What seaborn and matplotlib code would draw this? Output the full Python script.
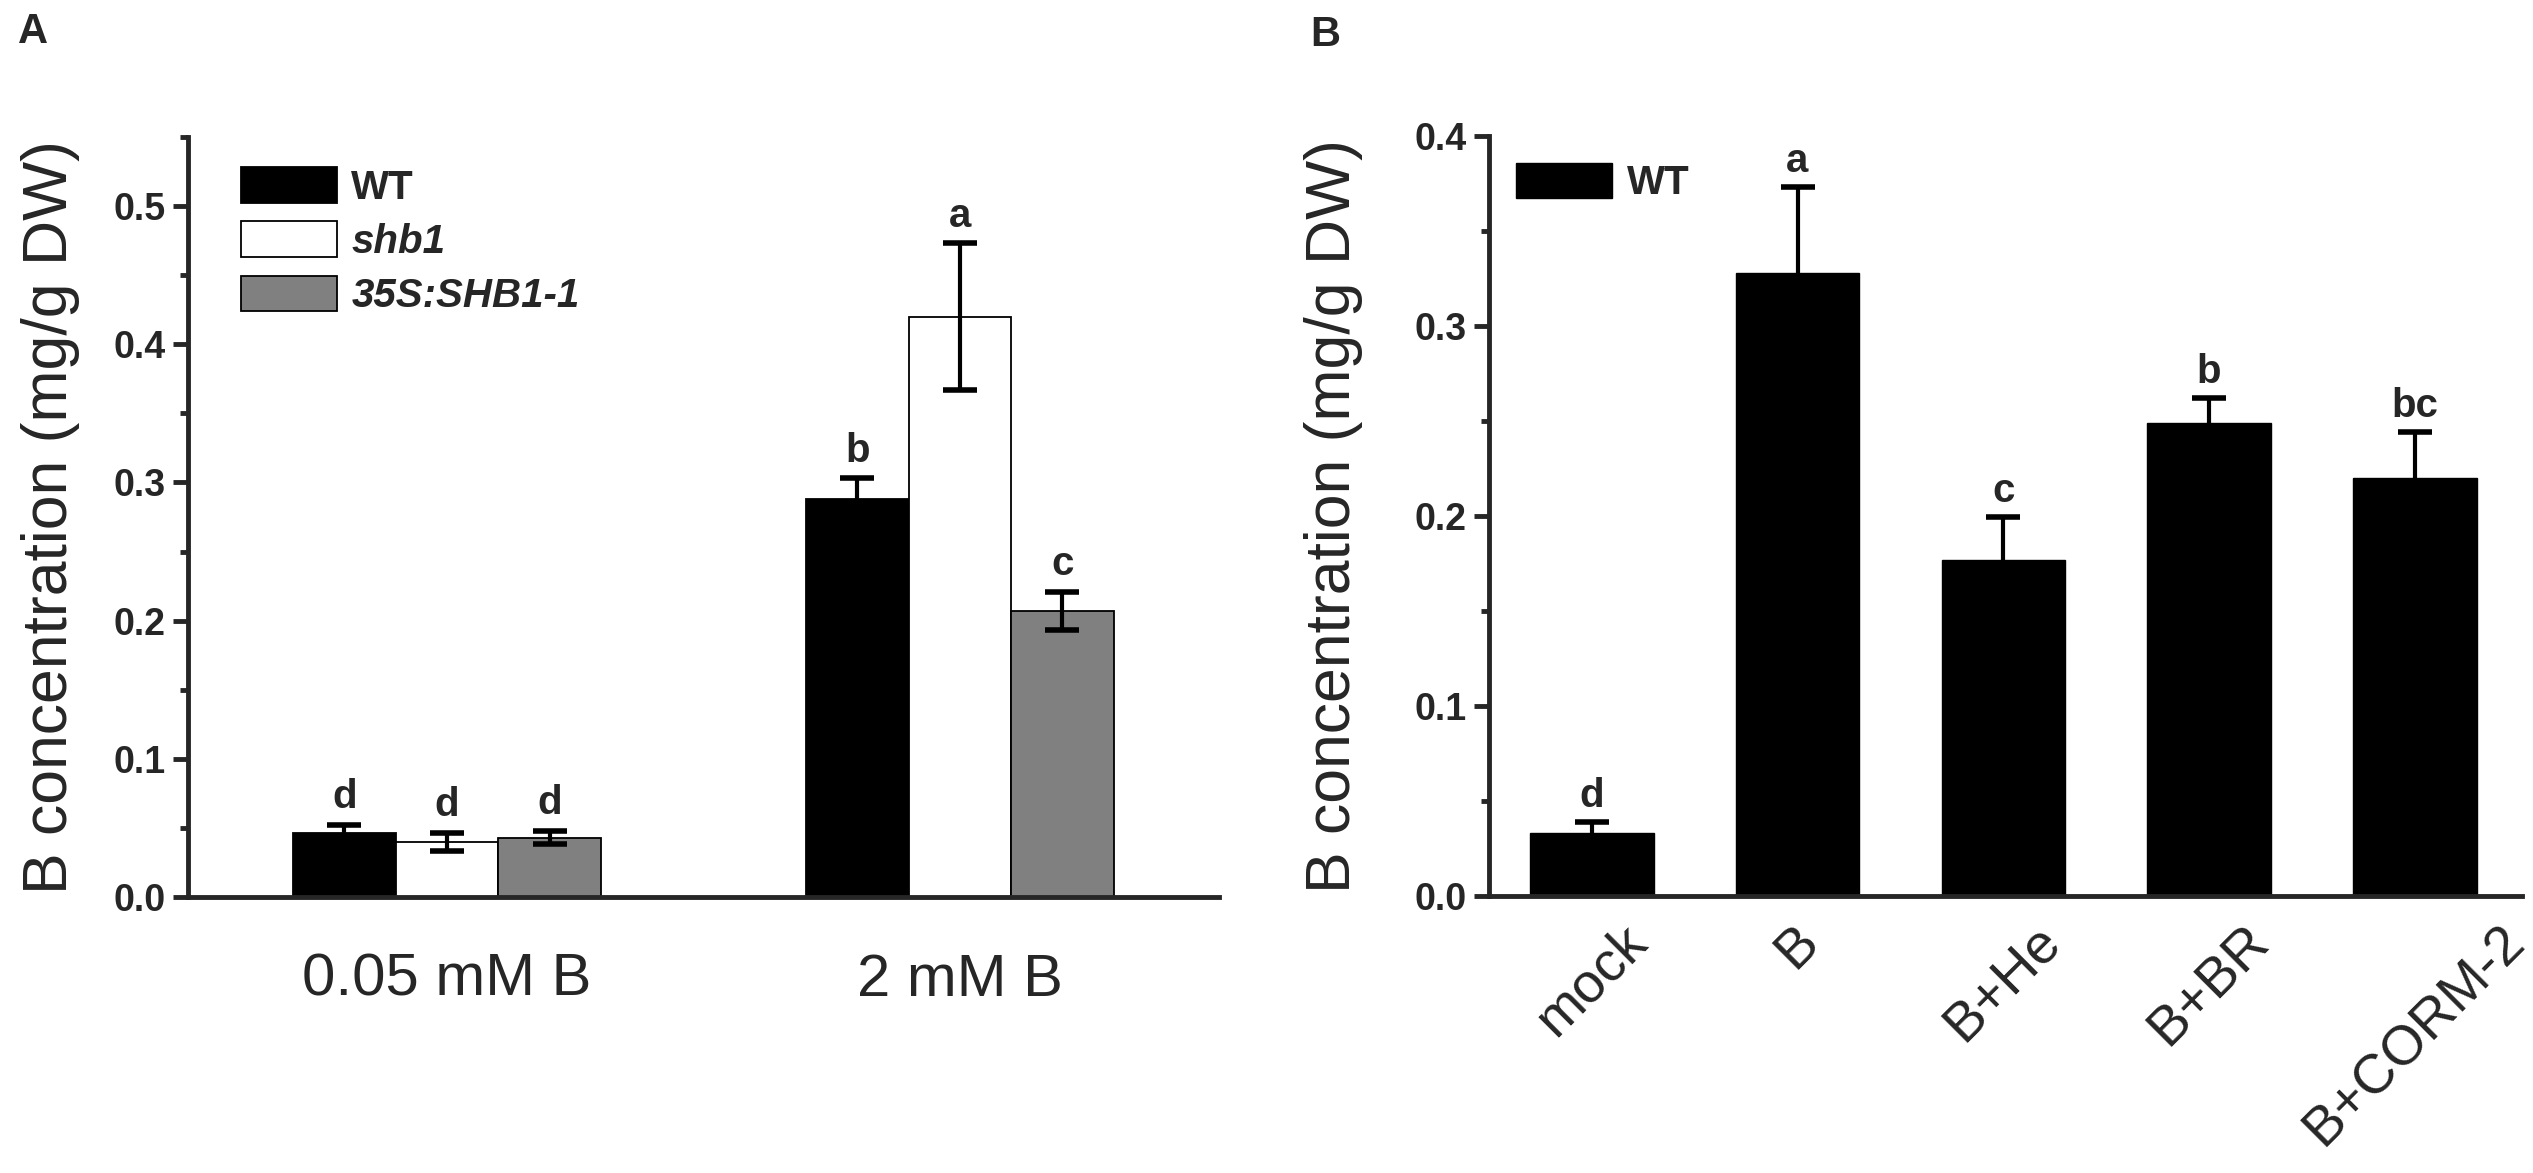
import numpy as np
import pandas as pd
import matplotlib
matplotlib.use("Agg")
import matplotlib.pyplot as plt
import seaborn as sns
from matplotlib.patches import Patch
from matplotlib.ticker import MultipleLocator

# ---------------- Panel A data ----------------
conditions = ["0.05 mM B", "2 mM B"]
genotypes = ["WT", "shb1", "35S:SHB1-1"]
wt_mean = [0.046, 0.288]
wt_err = [0.006, 0.015]
shb1_mean = [0.040, 0.420]
shb1_err = [0.0065, 0.053]
oe_mean = [0.043, 0.207]
oe_err = [0.005, 0.014]
wt_letters = ["d", "b"]
shb1_letters = ["d", "a"]
oe_letters = ["d", "c"]

# ---------------- Panel B data ----------------
treatments = ["mock", "B", "B+He", "B+BR", "B+CORM-2"]
b_mean = [0.033, 0.328, 0.177, 0.249, 0.220]
b_err = [0.006, 0.045, 0.0225, 0.013, 0.024]
b_letters = ["d", "a", "c", "b", "bc"]

ylabel = "B concentration (mg/g DW)"

sns.set_style("ticks")
plt.rcParams["font.family"] = ["Liberation Sans", "DejaVu Sans"]
plt.rcParams["axes.linewidth"] = 3.5

fig = plt.figure(figsize=(25.33, 11.73), dpi=100)
axA = fig.add_axes([0.0742, 0.2353, 0.407, 0.6479])
axB = fig.add_axes([0.5878, 0.2361, 0.4078, 0.6479])

colors = {"WT": "#000000", "shb1": "#ffffff", "35S:SHB1-1": "#808080"}

dfA = pd.DataFrame({
    "condition": conditions * 3,
    "genotype": [genotypes[0]] * 2 + [genotypes[1]] * 2 + [genotypes[2]] * 2,
    "value": wt_mean + shb1_mean + oe_mean,
})
sns.barplot(data=dfA, x="condition", y="value", hue="genotype",
            order=conditions, hue_order=genotypes, palette=colors,
            width=0.6, errorbar=None, saturation=1, legend=False,
            edgecolor="black", linewidth=1.3, ax=axA)

errs = [wt_err, shb1_err, oe_err]
means = [wt_mean, shb1_mean, oe_mean]
lets = [wt_letters, shb1_letters, oe_letters]
for cont, m, e, L in zip(axA.containers, means, errs, lets):
    xs = [b.get_x() + b.get_width() / 2 for b in cont]
    axA.errorbar(xs, m, yerr=e, fmt="none", ecolor="black",
                 elinewidth=3, capsize=12, capthick=4, zorder=5)
    for x, mm, ee, l in zip(xs, m, e, L):
        axA.annotate(l, (x, mm + ee), xytext=(0, 12), textcoords="offset points",
                     ha="center", va="baseline", fontsize=29, fontweight="bold")

axA.set_xlim(-0.505, 1.505)
axA.set_ylim(0, 0.55)
ticksA = np.round(np.arange(0, 0.51, 0.1), 2)
axA.set_yticks(ticksA)
axA.set_yticklabels([f"{t:.1f}" for t in ticksA], fontweight="bold")
axA.yaxis.set_minor_locator(MultipleLocator(0.05))

# Panel B
sns.barplot(x=treatments, y=b_mean, color="black", width=0.6,
            saturation=1, errorbar=None, edgecolor="black", linewidth=1,
            ax=axB)
contB = axB.containers[0]
xsB = [b.get_x() + b.get_width() / 2 for b in contB]
eb = axB.errorbar(xsB, b_mean, yerr=[[0] * len(b_err), b_err], fmt="none",
                  ecolor="black", elinewidth=3, capsize=12, capthick=4, zorder=5)
# hide the lower caps (one-sided error bars)
for cl in eb[1]:
    yd = np.asarray(cl.get_ydata(), dtype=float)
    if np.allclose(yd, np.asarray(b_mean)):
        cl.set_visible(False)
for x, mm, ee, l in zip(xsB, b_mean, b_err, b_letters):
    axB.annotate(l, (x, mm + ee), xytext=(0, 11), textcoords="offset points",
                 ha="center", va="baseline", fontsize=29, fontweight="bold")
axB.set_xlim(-0.5, 4.52)
axB.set_ylim(0, 0.4)
ticksB = np.round(np.arange(0, 0.41, 0.1), 2)
axB.set_yticks(ticksB)
axB.set_yticklabels([f"{t:.1f}" for t in ticksB], fontweight="bold")
axB.yaxis.set_minor_locator(MultipleLocator(0.05))

for ax in (axA, axB):
    sns.despine(ax=ax)
    for s in ("left", "bottom"):
        ax.spines[s].set_linewidth(3.5)
    ax.tick_params(axis="y", which="major", direction="out", length=11,
                   width=3.5, labelsize=27, pad=5)
    ax.tick_params(axis="y", which="minor", direction="out", length=6,
                   width=3.5)
    ax.set_xlabel("")
    ax.set_ylabel(ylabel, fontsize=45)

axA.tick_params(axis="x", length=0, labelsize=43, pad=40)
axB.tick_params(axis="x", length=0, labelsize=40, pad=14)
for lbl in axB.get_xticklabels():
    lbl.set_rotation(45)
    lbl.set_ha("center")

axA.yaxis.set_label_coords(-0.105, 0.5)
axB.yaxis.set_label_coords(-0.122, 0.5)

# Legends
hA = [Patch(facecolor=colors[g], edgecolor="black", linewidth=1.3) for g in genotypes]
legA = axA.legend(hA, genotypes, loc="upper left", bbox_to_anchor=(0.051, 0.96),
                  frameon=False, borderpad=0, borderaxespad=0,
                  handlelength=2.4, handleheight=0.98, handletextpad=0.35,
                  labelspacing=0.36, prop={"size": 29, "weight": "bold"})
for i, t in enumerate(legA.get_texts()):
    if i > 0:
        t.set_style("italic")

hB = [Patch(facecolor="black", edgecolor="black")]
axB.legend(hB, ["WT"], loc="upper left", bbox_to_anchor=(0.026, 0.965),
           frameon=False, borderpad=0, borderaxespad=0,
           handlelength=2.4, handleheight=0.98, handletextpad=0.35,
           prop={"size": 29, "weight": "bold"})

fig.text(18 / 2533, 1 - 12 / 1173, "A", fontsize=30, fontweight="bold",
         ha="left", va="top")
fig.text(1310 / 2533, 1 - 15 / 1173, "B", fontsize=30, fontweight="bold",
         ha="left", va="top")

fig.savefig("out.png", dpi=100)
